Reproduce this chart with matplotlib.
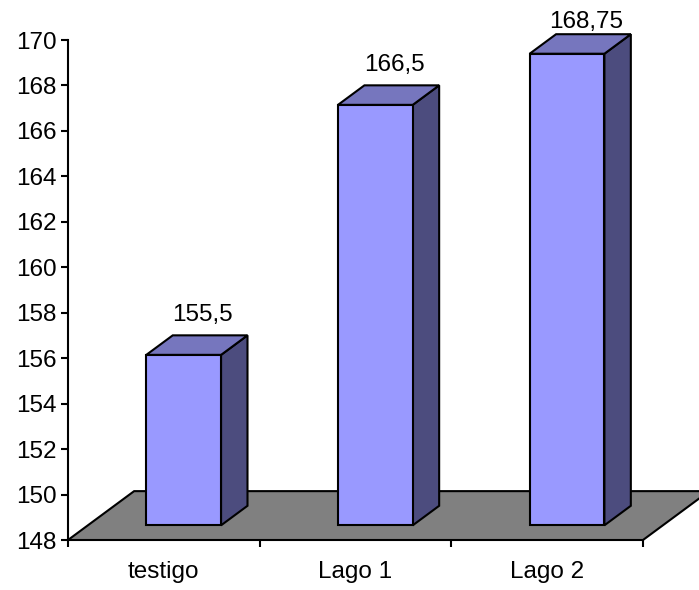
import matplotlib.pyplot as plt
from matplotlib.patches import Polygon

# data
categories = ['testigo', 'Lago 1', 'Lago 2']
values = [155.5, 166.5, 168.75]
value_labels = ['155,5', '166,5', '168,75']
y_ticks = list(range(148, 171, 2))

# fake 3d settings (category units / value units for full floor depth)
Y_MIN, Y_MAX = 148, 170
DX, DY = 0.345, 2.15
BAR_W = 0.39
D_FRONT, D_BACK = 0.3, 0.7

FRONT_COL = '#9999FF'
TOP_COL = '#7676BE'
SIDE_COL = '#4C4C7E'
FS = 17.5
LW = 1.5

plt.rcParams['font.family'] = ['Liberation Sans', 'DejaVu Sans']

fig = plt.figure(figsize=(6.99, 5.90), dpi=100)
ax = fig.add_axes([68 / 699, 50 / 590, 575 / 699, 500 / 590])
ax.set_xlim(0, len(categories))
ax.set_ylim(Y_MIN, Y_MAX)

# floor
floor = Polygon([(0, Y_MIN), (3, Y_MIN), (3 + DX, Y_MIN + DY), (DX, Y_MIN + DY)],
                closed=True, facecolor='#808080', edgecolor='black', lw=LW,
                clip_on=False, zorder=1)
ax.add_patch(floor)


def pt(x, y, d):
    return (x + d * DX, y + d * DY)


for i, v in enumerate(values):
    x0 = i + 0.5 - BAR_W / 2
    x1 = i + 0.5 + BAR_W / 2
    front = [pt(x0, Y_MIN, D_FRONT), pt(x1, Y_MIN, D_FRONT), pt(x1, v, D_FRONT), pt(x0, v, D_FRONT)]
    top = [pt(x0, v, D_FRONT), pt(x1, v, D_FRONT), pt(x1, v, D_BACK), pt(x0, v, D_BACK)]
    side = [pt(x1, Y_MIN, D_FRONT), pt(x1, v, D_FRONT), pt(x1, v, D_BACK), pt(x1, Y_MIN, D_BACK)]
    for poly, col in [(side, SIDE_COL), (top, TOP_COL), (front, FRONT_COL)]:
        ax.add_patch(Polygon(poly, closed=True, facecolor=col, edgecolor='black',
                             lw=LW, clip_on=False, zorder=2, joinstyle='miter'))
    lx, ly = pt(i + 0.5, v, D_BACK)
    ly = min(ly + 0.9, Y_MAX + 0.8)
    ax.text(lx - 0.04, ly, value_labels[i], ha='center', va='center', fontsize=FS,
            clip_on=False)

# axes styling
for s in ['top', 'right', 'bottom']:
    ax.spines[s].set_visible(False)
ax.spines['left'].set_linewidth(LW)
ax.set_yticks(y_ticks)
ax.set_yticklabels([str(t) for t in y_ticks], fontsize=FS)
ax.tick_params(axis='y', direction='out', length=5, width=LW, pad=3)

ax.set_xticks(range(len(categories) + 1))
ax.set_xticklabels([])
ax.set_xticks([i + 0.5 for i in range(len(categories))], minor=True)
ax.set_xticklabels(categories, minor=True, fontsize=FS)
ax.tick_params(axis='x', which='major', direction='out', length=5, width=LW)
ax.tick_params(axis='x', which='minor', length=0, pad=15)

fig.savefig('out.png', dpi=100)
